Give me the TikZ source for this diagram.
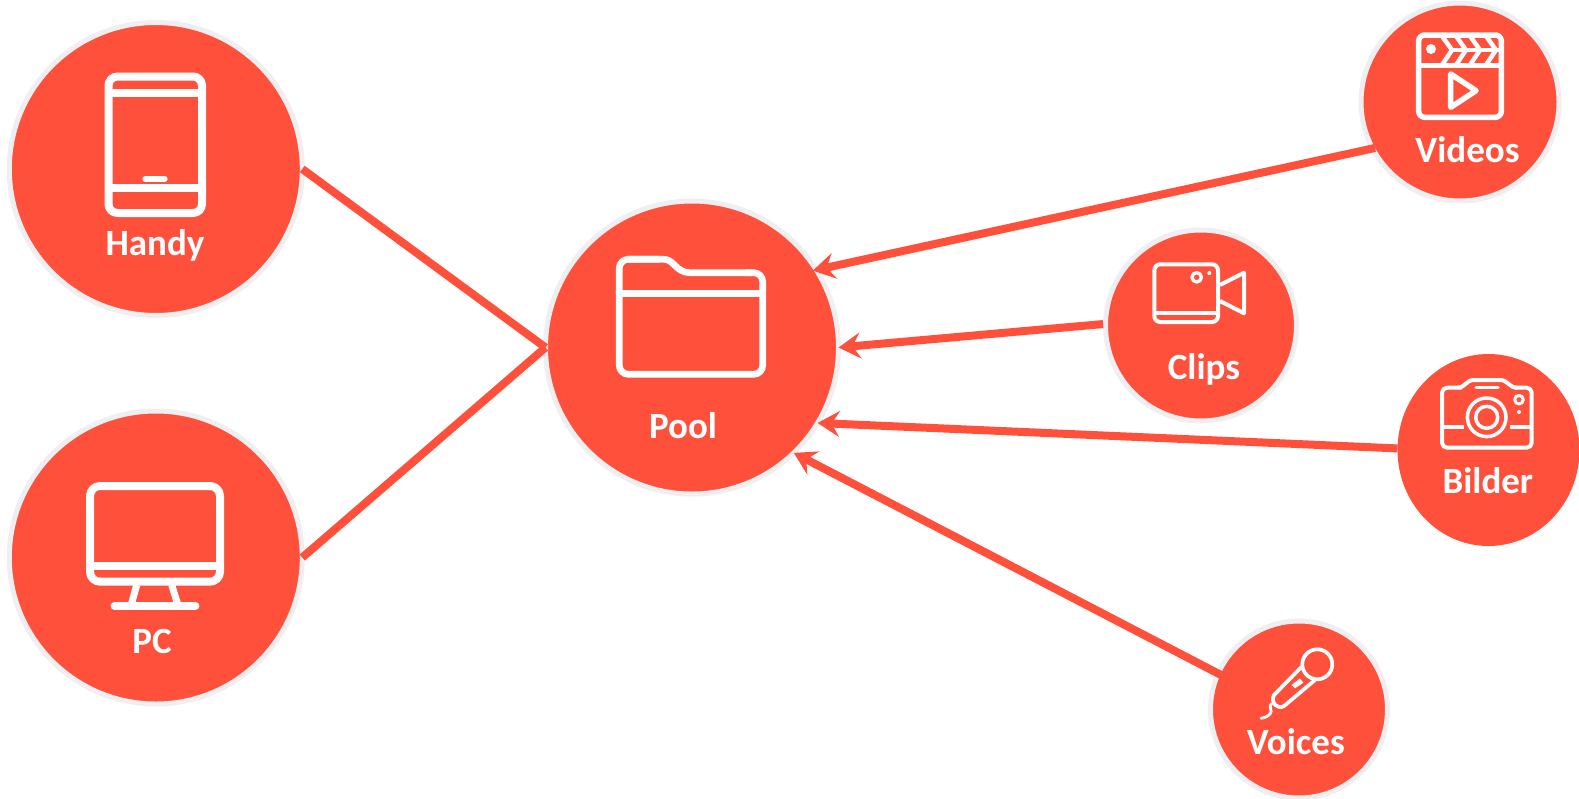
\documentclass[tikz,border=0pt]{standalone}
\usepackage{fontspec}
\setmainfont{Carlito}
\usetikzlibrary{arrows.meta,shapes.geometric}
\definecolor{hub}{HTML}{FF503C}
\definecolor{halo}{HTML}{EFEFF1}
\tikzset{
  disc/.style={circle,fill=hub,draw=halo,line width=5pt,inner sep=0pt,outer sep=0pt,minimum size=#1},
  blob/.style={ellipse,fill=hub,inner sep=0pt,outer sep=0pt,minimum width=182pt,minimum height=192pt},
  lbl/.style={anchor=base,text=white,inner sep=0pt,font=\fontsize{37}{40}\selectfont\bfseries},
  wire/.style={draw=hub,line width=8pt},
  feed/.style={wire,-{Stealth[length=22pt,width=26pt,inset=8pt]}},
  ico/.style={draw=white,line join=round,line cap=butt}
}
\begin{document}
\begin{tikzpicture}[x=1pt,y=-1pt]
\useasboundingbox (0,0) rectangle (1579,798);
% nodes
\node[disc=293pt] (handy) at (155.8,169) {};
\node[disc=293pt] (pc) at (155.8,557.5) {};
\node[disc=293pt] (pool) at (692,347.5) {};
\node[disc=198pt] (videos) at (1460,102) {};
\node[disc=191pt] (clips) at (1201,325.5) {};
\node[blob] (bilder) at (1488.5,450) {};
\node[disc=177pt] (voices) at (1299,709.5) {};
% connectors
\draw[wire] (handy.east) -- (pool.west);
\draw[wire] (pc.east) -- (pool.west);
\draw[feed,shorten <=-2.5pt,shorten >=-3.5pt] (videos.208.3) -- (pool.32);
\draw[feed,shorten <=2.5pt] (clips.179) -- (pool.0.6);
\draw[feed] (bilder.179) -- (pool.329.2);
\draw[feed,shorten <=-3.5pt] (voices.156.4) -- (pool.314.3);
% handy icon
\draw[ico,line width=8pt,rounded corners=9pt] (108.5,76.5) rectangle (202,213);
\draw[ico,line width=8pt] (108.5,93.3) -- (202,93.3) (108.5,187.7) -- (202,187.7);
\draw[ico,line width=6.3pt,line cap=round] (145.5,179) -- (164.5,179);
% pc icon
\draw[ico,line width=8pt,rounded corners=10pt] (90,486) rectangle (220,581.7);
\draw[ico,line width=8pt] (90,566) -- (220,566);
\draw[ico,line width=7pt] (136.7,585) -- (131.7,603) (171.7,585) -- (177.3,603);
\draw[ico,line width=7.3pt,line cap=round] (114.3,606) -- (195.7,606);
% folder icon
\draw[ico,line width=6.7pt,rounded corners=9pt] (619.3,293) -- (619.3,259.3) -- (660,259.3);
\draw[ico,line width=6.7pt] (627,259.3) -- (664,259.3) .. controls (674,259.3) and (676,272.7) .. (690,272.7) -- (752,272.7);
\draw[ico,line width=6.7pt,rounded corners=9pt] (745,272.7) -- (762.7,272.7) -- (762.7,374.3) -- (619.3,374.3) -- (619.3,290);
\draw[ico,line width=6.7pt] (619.3,293.3) -- (762.7,293.3);
% videos icon
\draw[ico,line width=5.5pt,rounded corners=6pt] (1418.7,35) rectangle (1501.3,117.3);
\draw[ico,line width=5.5pt] (1418.7,65.7) -- (1501.3,65.7);
\fill[white] (1431,49) circle (5pt);
\draw[ico,line width=4.5pt] (1451,50) -- (1501.3,50);
\draw[ico,line width=4.5pt]
  (1442,36) -- (1452,50) -- (1442,65)
  (1456,36) -- (1466,50) -- (1456,65)
  (1470,36) -- (1480,50) -- (1470,65)
  (1486,36) -- (1496,50) -- (1486,65);
\draw[ico,line width=5.5pt] (1450.7,74) -- (1476,90.7) -- (1450.7,107.3) -- cycle;
% clips icon
\draw[ico,line width=4pt,rounded corners=6pt] (1154.3,264.3) rectangle (1218,322);
\draw[ico,line width=4pt] (1154.3,313.3) -- (1218,313.3);
\draw[ico,line width=3.3pt] (1196.7,277.3) circle (4.7pt);
\fill[white] (1209.3,273) circle (2pt);
\draw[ico,line width=4pt] (1220,285) -- (1244,272.7) -- (1244,313.3) -- (1220,301);
% bilder icon
\draw[ico,line width=4pt,rounded corners=5pt] (1462,387.7) -- (1442,387.7) -- (1442,447.7) -- (1531.7,447.7) -- (1531.7,387.7) -- (1515,387.7);
\draw[ico,line width=4pt] (1458,387.7) .. controls (1465,387.7) and (1466,380) .. (1474,380) -- (1500,380) .. controls (1508,380) and (1509,387.7) .. (1517,387.7);
\draw[ico,line width=3.5pt,line cap=round] (1476,387.7) -- (1498,387.7);
\draw[ico,line width=3.5pt] (1486.7,417.3) circle (19.3pt) (1486.7,417.3) circle (11pt);
\draw[ico,line width=3pt] (1519,399.7) circle (4.3pt);
\fill[white] (1519,412) circle (2pt);
\draw[ico,line width=4pt] (1444,427.3) -- (1464,427.3) (1510,427.3) -- (1531.7,427.3);
% voices icon
\draw[ico,line width=3.7pt] (1317.3,664.3) circle (15pt);
\draw[ico,line width=3.7pt] (1301.7,666.7) -- (1274,695) .. controls (1270,703) and (1278,710) .. (1284,706) -- (1315,680);
\fill[white] (1291.7,685) -- (1300,678.3) -- (1303.3,682.7) -- (1295,688.3) -- cycle;
\draw[ico,line width=2.8pt,line cap=round] (1273.3,703.3) .. controls (1266,705) and (1274,711) .. (1270,714) .. controls (1267,717) and (1264,718) .. (1261,718.3);
% labels
\node[lbl] (thandy) at (155,255) {Handy};
\node[lbl] (tpc) at (152,653.3) {PC};
\node[lbl] (tpool) at (683,438.3) {Pool};
\node[lbl] (tvideos) at (1467.5,162.3) {Videos};
\node[lbl] (tclips) at (1204,379) {Clips};
\node[lbl] (tbilder) at (1487.8,493.3) {Bilder};
\node[lbl] (tvoices) at (1295.8,754.3) {Voices};
\end{tikzpicture}
\end{document}
